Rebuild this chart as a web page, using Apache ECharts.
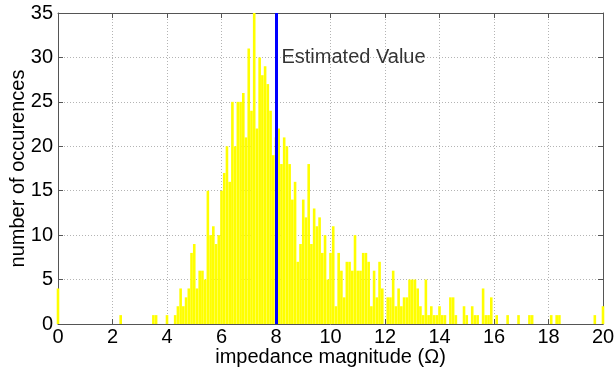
<!DOCTYPE html>
<html>
<head>
<meta charset="utf-8">
<script src="https://cdn.jsdelivr.net/npm/echarts@6/dist/echarts.min.js"></script>
<style>
html,body{margin:0;padding:0;background:#fff;}
#chart{width:616px;height:371px;}
</style>
</head>
<body>
<div id="chart"></div>
<script>
// Histogram bin layout: centers at binStart + i*binWidth
const binStart = 0;
const binWidth = 0.1;
// Counts per bin (bins 0.0 .. 20.0)
const counts = [
  4,0,0,0,0,0,0,0,0,0,            // 0.0-0.9
  0,0,0,0,0,0,0,0,0,0,            // 1.0-1.9
  0,0,0,1,0,0,0,0,0,0,            // 2.0-2.9
  0,0,0,0,0,1,1,0,0,0,            // 3.0-3.9
  1,0,0,1,2,4,2,3,4,8,            // 4.0-4.9
  9,4,6,6,5,15,10,11,9,10,        // 5.0-5.9
  15,17,20,16,25,20,25,25,26,21,  // 6.0-6.9
  31,24,35,22,30,28,29,27,24,19,  // 7.0-7.9
  21,22,18,21,20,18,14,16,7,9,    // 8.0-8.9
  14,12,18,9,13,11,12,8,10,5,     // 9.0-9.9
  8,11,2,8,6,3,7,7,6,10,          // 10.0-10.9
  6,6,8,8,7,2,6,3,7,4,            // 11.0-11.9
  0,3,3,6,2,4,2,3,3,5,            // 12.0-12.9
  5,5,4,2,1,5,1,2,1,1,            // 13.0-13.9
  2,1,1,0,3,3,1,0,0,2,            // 14.0-14.9
  1,0,2,1,1,0,4,1,1,3,            // 15.0-15.9
  0,1,0,0,0,1,0,0,0,1,            // 16.0-16.9
  0,0,0,1,1,0,0,0,0,0,            // 17.0-17.9
  0,1,0,1,1,0,0,0,0,0,            // 18.0-18.9
  0,0,0,0,0,0,0,1,0,0,            // 19.0-19.9
  2                               // 20.0
];
const xTicks = [0,2,4,6,8,10,12,14,16,18,20];
const yTicks = [0,5,10,15,20,25,30,35];
const estimatedValue = 8;
const annotationPos = [8.2, 30];
const annotationText = 'Estimated Value';
const xTitle = 'impedance magnitude (\u03A9)';
const yTitle = 'number of occurences';

const histData = counts.map((c, i) => [+(binStart + i * binWidth).toFixed(1), c]);

const FONT = 'Liberation Sans, Arial, Helvetica, sans-serif';
const FS = 20;
const AX = '#555555';
const GRIDC = '#b4b4b4';

function xAxisCfg(pos, main) {
  return {
    type: 'value', position: pos,
    min: xTicks[0], max: xTicks[xTicks.length-1], interval: 2,
    axisLine: {show: true, onZero: false, lineStyle: {color: AX, width: 1}},
    axisTick: {show: true, inside: true, length: 5, lineStyle: {color: AX}},
    axisLabel: {show: main, fontSize: FS, color: '#000', fontFamily: FONT, margin: 3},
    splitLine: {show: main, lineStyle: {type: [1, 2], color: GRIDC, width: 1}},
    name: main ? xTitle : '', nameLocation: 'middle', nameGap: 23, nameMoveOverlap: false,
    nameTextStyle: {fontSize: FS, color: '#000', fontFamily: FONT}
  };
}
function yAxisCfg(pos, main) {
  return {
    type: 'value', position: pos,
    min: yTicks[0], max: yTicks[yTicks.length-1], interval: 5,
    axisLine: {show: true, onZero: false, lineStyle: {color: AX, width: 1}},
    axisTick: {show: true, inside: true, length: 5, lineStyle: {color: AX}},
    axisLabel: {show: main, fontSize: FS, color: '#000', fontFamily: FONT, margin: 5},
    splitLine: {show: main, lineStyle: {type: [1, 2], color: GRIDC, width: 1}},
    name: main ? yTitle : '', nameLocation: 'middle', nameGap: 30, nameMoveOverlap: false,
    nameTextStyle: {fontSize: FS, color: '#000', fontFamily: FONT}
  };
}

const chart = echarts.init(document.getElementById('chart'), null, {renderer: 'canvas'});
chart.setOption({
  animation: false,
  backgroundColor: '#fff',
  grid: {left: 58, right: 13, top: 13, bottom: 47, containLabel: false, outerBoundsMode: 'none'},
  xAxis: [xAxisCfg('bottom', true), xAxisCfg('top', false)],
  yAxis: [yAxisCfg('left', true), yAxisCfg('right', false)],
  series: [
    {
      type: 'bar', xAxisIndex: 0, yAxisIndex: 0,
      data: histData, barWidth: 2.6,
      itemStyle: {color: '#ffff00'},
      clip: true,
      markLine: {
        silent: true, symbol: ['none', 'none'],
        lineStyle: {color: '#0000ff', width: 3, type: 'solid'},
        label: {show: false},
        data: [{xAxis: estimatedValue}]
      }
    },
    {
      type: 'scatter', xAxisIndex: 0, yAxisIndex: 0,
      data: [annotationPos], symbolSize: 0,
      label: {show: true, position: 'right', distance: 0, formatter: annotationText,
              fontSize: FS, color: '#000', fontFamily: FONT}
    }
  ]
});
</script>
</body>
</html>
